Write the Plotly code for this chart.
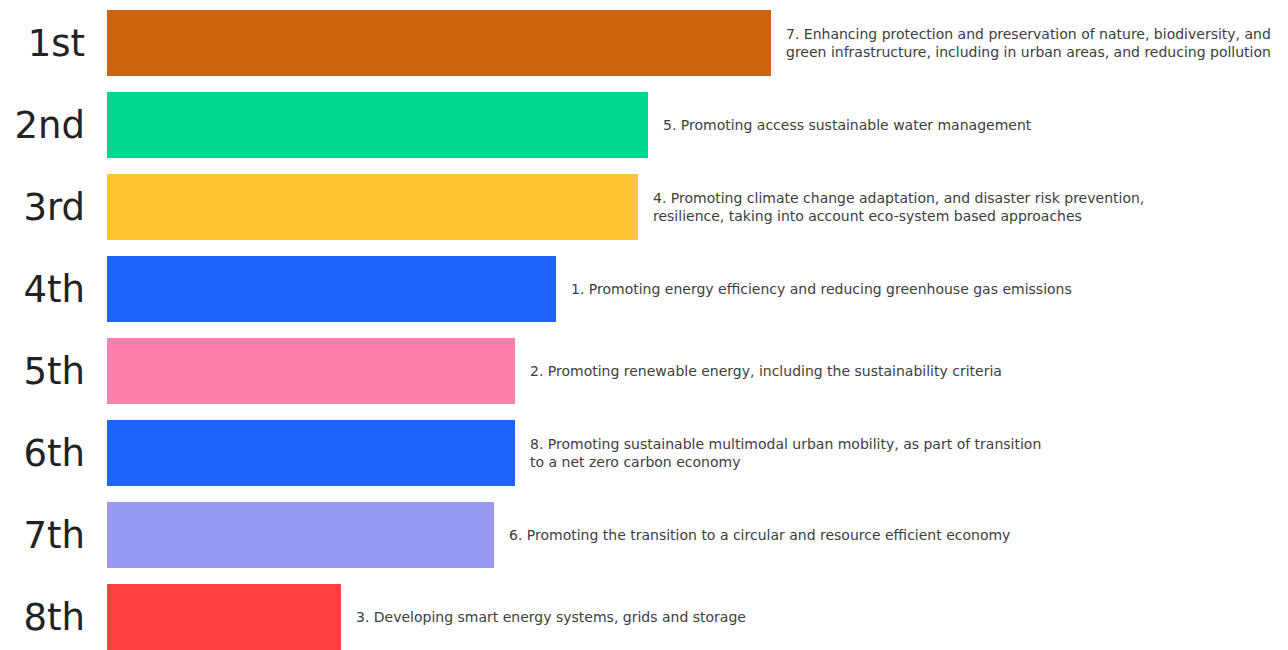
import plotly.graph_objects as go

ranks = ["1st", "2nd", "3rd", "4th", "5th", "6th", "7th", "8th"]
scores = [664, 541, 531, 449, 408, 408, 387, 234]
labels = [
    "7. Enhancing protection and preservation of nature, biodiversity, and<br>green infrastructure, including in urban areas, and reducing pollution",
    "5. Promoting access sustainable water management",
    "4. Promoting climate change adaptation, and disaster risk prevention,<br>resilience, taking into account eco-system based approaches",
    "1. Promoting energy efficiency and reducing greenhouse gas emissions",
    "2. Promoting renewable energy, including the sustainability criteria",
    "8. Promoting sustainable multimodal urban mobility, as part of transition<br>to a net zero carbon economy",
    "6. Promoting the transition to a circular and resource efficient economy",
    "3. Developing smart energy systems, grids and storage",
]
colors = ["#CC640F", "#00D68F", "#FFC634", "#1E63FA", "#FF7FAC", "#1E63FA", "#9799F3", "#FF4040"]

fig = go.Figure()
fig.add_trace(go.Bar(
    x=scores, y=ranks, orientation="h",
    marker=dict(color=colors, line=dict(width=0)),
    width=0.805, hoverinfo="skip",
))

for r, s, t in zip(ranks, scores, labels):
    fig.add_annotation(
        x=s, y=r, text=t, showarrow=False, xanchor="left", yanchor="middle",
        xshift=13, align="left",
        font=dict(family="DejaVu Sans", size=14, color="#3d3d3d"),
    )

fig.update_layout(
    width=1288, height=650,
    margin=dict(l=107, r=0, t=0, b=0),
    paper_bgcolor="white", plot_bgcolor="white",
    showlegend=False,
    xaxis=dict(range=[0, 1181], visible=False),
    yaxis=dict(
        type="category", range=[7.402, -0.524],
        showgrid=False, zeroline=False, showline=False,
        ticks="", ticklabelstandoff=21,
        tickfont=dict(family="DejaVu Sans", size=37, color="#222222"),
    ),
)

fig.write_html("out.html")
